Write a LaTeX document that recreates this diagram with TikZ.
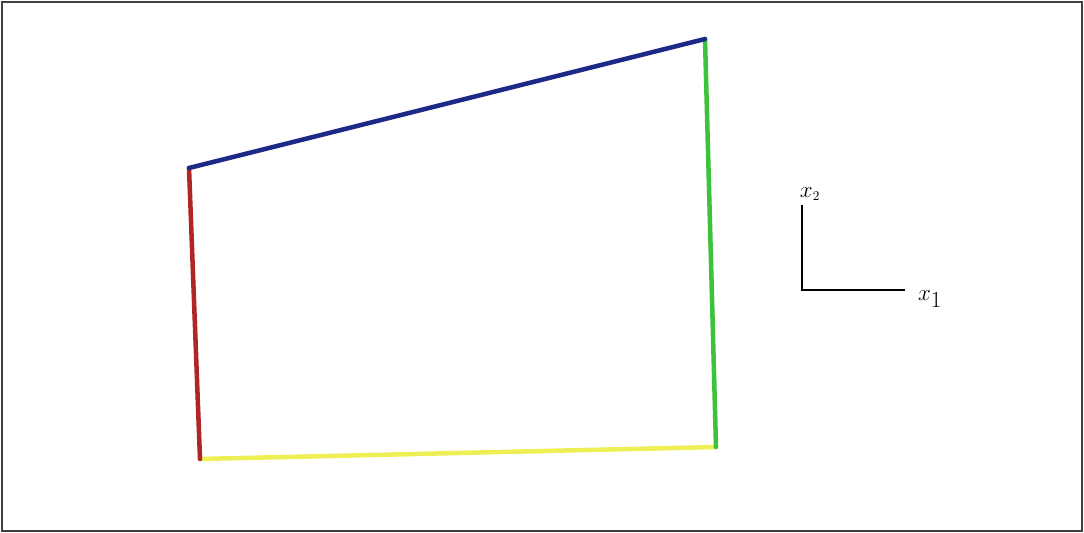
\documentclass[tikz,border=0pt]{standalone}
\usepackage{xcolor}
\definecolor{edgeblue}{HTML}{1C2A85}
\definecolor{edgered}{HTML}{B02525}
\definecolor{edgegreen}{HTML}{3CC23C}
\definecolor{edgeyellow}{HTML}{EEEE55}
\usepackage{tikz}
\usetikzlibrary{positioning}

\begin{document}
\begin{tikzpicture}[
  x=0.0264cm, y=-0.0264cm,
  edge/.style={line width=3.4pt, line cap=round},
  axis/.style={line width=1.1pt, black},
  axlabel/.style={inner sep=0pt, font=\LARGE}
]

% ---- Cadre ----
\useasboundingbox (0,0) rectangle (1084,533);
\draw[line width=1.6pt, black!75] (2,2) rectangle (1082,531);

% ---- Sommets du quadrilatere ----
\coordinate (tl) at (189,168);
\coordinate (tr) at (705,39);
\coordinate (br) at (716,447);
\coordinate (bl) at (200,459);

% Aretes colorees
\draw[edge, edgeyellow] (bl) -- (br);
\draw[edge, edgered] (tl) -- (bl);
\draw[edge, edgegreen] (tr) -- (br);
\draw[edge, edgeblue] (tl) -- (tr);

% ---- Repere ----
\coordinate (o) at (802,290);
\coordinate (e2) at (802,205);
\coordinate (e1) at (905,290);
\draw[axis] (e2) -- (o) -- (e1);

\node[axlabel] (x2) at (810,194) {$x_{\scriptscriptstyle 2}$};
\node[axlabel] (x1) at (930,299) {$x_{\textstyle 1}$};

\end{tikzpicture}
\end{document}
